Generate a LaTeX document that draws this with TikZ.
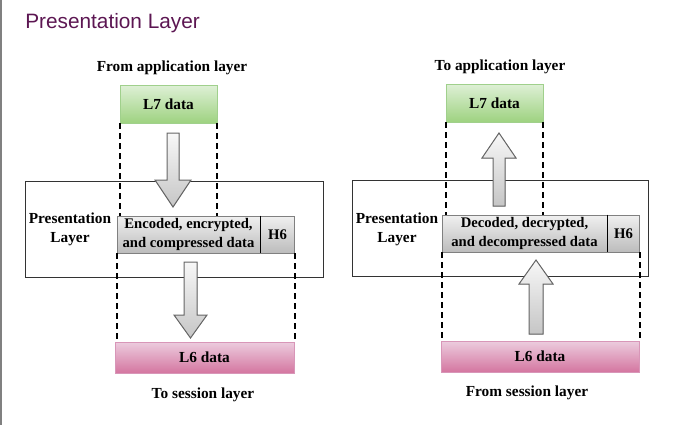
\documentclass[tikz,border=0pt]{standalone}
\usepackage{fontspec}
\setmainfont{Liberation Serif}
\newfontfamily\titlefont{Liberation Sans}
\usetikzlibrary{positioning}

\definecolor{titlepurple}{RGB}{92,22,82}
\definecolor{greentop}{RGB}{222,240,214}
\definecolor{greenbot}{RGB}{158,210,128}
\definecolor{greenline}{RGB}{160,208,140}
\definecolor{pinktop}{RGB}{236,204,222}
\definecolor{pinkbot}{RGB}{212,118,160}
\definecolor{pinkline}{RGB}{216,150,184}
\definecolor{graytop}{RGB}{240,240,240}
\definecolor{graybot}{RGB}{188,188,188}

\begin{document}
\begin{tikzpicture}[x=0.75pt, y=-0.75pt,
  lbl/.style = {font=\fontsize{11.5}{14.2}\selectfont\bfseries, align=center, inner sep=0pt},
  l7box/.style = {lbl, draw=greenline, top color=greentop, bottom color=greenbot, minimum width=97*0.75pt, minimum height=38*0.75pt},
  l6box/.style = {lbl, draw=pinkline, top color=pinktop, bottom color=pinkbot, minimum height=31*0.75pt},
  layerbox/.style = {draw=black!80, line width=0.75pt},
  databox/.style = {lbl, font=\fontsize{11}{14.2}\selectfont\bfseries, draw=gray, top color=graytop, bottom color=graybot, minimum height=37*0.75pt},
  guide/.style = {line width=1.5pt, dash pattern=on 4.5pt off 3pt},
  blockarrow/.style = {draw=black!60, line width=0.75pt, top color=gray!6, bottom color=gray!45}]
\useasboundingbox (0,0) rectangle (689,425);
\draw[gray, line width=1.5pt] (1,0) -- (1,425);

\node[anchor=base west, inner sep=0pt, text=titlepurple, font=\titlefont\fontsize{15.6}{18}\selectfont] (title) at (25,28) {Presentation Layer};

% sending side
\node[lbl] (fromapp) at (172,68) {From application layer};
\node[l7box] (l7a) at (168.5,104) {L7 data};
\node[layerbox, minimum width=298*0.75pt, minimum height=96*0.75pt] (outerA) at (174,229) {};
\node[lbl] (presA) at (70,229) {Presentation\\Layer};
\node[databox, minimum width=143*0.75pt] (encA) at (188.5,234.5) {Encoded, encrypted,\\and compressed data};
\node[databox, minimum width=34*0.75pt, right=0pt of encA] (h6a) {H6};
\node[l6box, minimum width=179*0.75pt] (l6a) at (204.5,357.5) {L6 data};
\node[lbl] (tosess) at (203,395) {To session layer};

\draw[line width=1.1pt] (h6a.north west) -- (h6a.south west);
\draw[guide] (l7a.south west) -- (l7a.south west |- encA.north);
\draw[guide] (l7a.south east) -- (l7a.south east |- encA.north);
\draw[guide] (encA.south west) -- (encA.south west |- l6a.north);
\draw[guide] (h6a.south east) -- (h6a.south east |- l6a.north);

\filldraw[blockarrow] (167,133) -- (179,133) -- (179,180) -- (191,180) -- (173,207) -- (155,180) -- (167,180) -- cycle;
\filldraw[blockarrow] (184,262) -- (197,262) -- (197,315) -- (207,315) -- (190.5,338) -- (174,315) -- (184,315) -- cycle;

% receiving side
\node[lbl] (toapp) at (500,67) {To application layer};
\node[l7box] (l7b) at (494.5,103) {L7 data};
\node[layerbox, minimum width=296*0.75pt, minimum height=96*0.75pt] (outerB) at (500,228) {};
\node[lbl] (presB) at (397,229) {Presentation\\Layer};
\node[databox, minimum width=165*0.75pt] (decB) at (524.5,233.5) {Decoded, decrypted,\\and decompressed data};
\node[databox, minimum width=32*0.75pt, right=0pt of decB] (h6b) {H6};
\node[l6box, minimum width=198*0.75pt] (l6b) at (540,356.5) {L6 data};
\node[lbl] (fromsess) at (527,393) {From session layer};

\draw[line width=1.1pt] (h6b.north west) -- (h6b.south west);
\draw[guide] (l7b.south west) -- (l7b.south west |- decB.north);
\draw[guide] (l7b.south east) -- (l7b.south east |- decB.north);
\draw[guide] (decB.south west) -- (decB.south west |- l6b.north);
\draw[guide] (h6b.south east) -- (h6b.south east |- l6b.north);

\filldraw[blockarrow] (493,206) -- (505,206) -- (505,158) -- (516,158) -- (499,133) -- (482,158) -- (493,158) -- cycle;
\filldraw[blockarrow] (529,334) -- (543,334) -- (543,284) -- (553,284) -- (536,260) -- (519,284) -- (529,284) -- cycle;
\end{tikzpicture}
\end{document}
